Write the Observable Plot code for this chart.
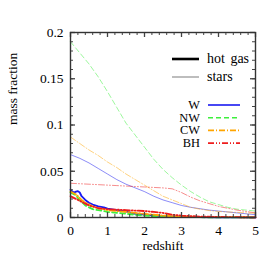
<!DOCTYPE html>
<html><head><meta charset="utf-8">
<script src="https://cdn.jsdelivr.net/npm/d3@7"></script>
<script src="https://cdn.jsdelivr.net/npm/@observablehq/plot@0.6"></script>
<style>body{margin:0;background:#fff}#chart{width:274px;height:274px}</style>
</head><body><div id="chart"></div>
<script>
// ---- data ----
const series = ["W", "NW", "CW", "BH"];
const seriesColors = ["#1a1af0", "#3cf03c", "#ffa500", "#ee1c1c"];
const seriesDash = [null, "5,3", "6,2,1,2", "6,2,1,2,1,2"];
const kinds = ["hot gas", "stars"];

const zStars = [0,0.25,0.5,0.75,1,1.25,1.5,1.75,2,2.25,2.5,2.75,3,3.25,3.5,3.75,4,4.25,4.5,4.75,5];
const starsW  = [0.068,0.064,0.059,0.053,0.047,0.041,0.036,0.032,0.028,0.023,0.019,0.016,0.013,0.011,0.0095,0.008,0.007,0.006,0.005,0.004,0.003];
const starsNW = [0.190,0.178,0.166,0.152,0.136,0.119,0.102,0.089,0.076,0.063,0.052,0.043,0.035,0.028,0.022,0.017,0.014,0.011,0.009,0.008,0.007];
const starsCW = [0.087,0.080,0.073,0.067,0.060,0.054,0.047,0.041,0.035,0.029,0.023,0.019,0.015,0.011,0.009,0.0075,0.0065,0.006,0.0055,0.005,0.0045];
const starsBH = [0.037,0.0365,0.036,0.0355,0.035,0.0345,0.034,0.0335,0.033,0.0325,0.032,0.031,0.027,0.022,0.018,0.015,0.012,0.010,0.008,0.0065,0.005];

const zGas = [0,0.05,0.1,0.15,0.2,0.25,0.3,0.4,0.5,0.6,0.75,0.9,1,1.25,1.5,1.75,2,2.25,2.5,2.75,3,3.5,4,4.5,5];
const gasW  = [0.030,0.028,0.027,0.028,0.0285,0.027,0.023,0.019,0.016,0.014,0.012,0.011,0.0095,0.008,0.0065,0.004,0.003,0.002,0.0015,0.001,0.0008,0.0004,0.0002,0.0001,0];
const gasNW = [0.027,0.026,0.025,0.024,0.021,0.019,0.017,0.013,0.011,0.009,0.008,0.007,0.006,0.005,0.004,0.003,0.002,0.0015,0.001,0.0007,0.0005,0.0003,0.0002,0.0001,0];
const gasCW = [0.028,0.027,0.026,0.025,0.023,0.021,0.019,0.016,0.014,0.012,0.010,0.009,0.008,0.007,0.006,0.005,0.004,0.003,0.002,0.0015,0.001,0.0007,0.0005,0.0003,0.0002];
const gasBH = [0.023,0.022,0.021,0.020,0.019,0.018,0.017,0.015,0.013,0.012,0.010,0.0095,0.009,0.0085,0.008,0.0075,0.007,0.006,0.005,0.003,0.002,0.001,0.0006,0.0003,0.0002];

const xTicks = [0,1,2,3,4,5];
const yTicks = [0,0.05,0.1,0.15,0.2];
const xMinor = d3.range(0, 5.001, 0.2);
const yMinor = d3.range(0, 0.2001, 0.01);

// ---- layout ----
const W = 274, H = 274, mL = 70, mR = 19, mT = 32, mB = 57;
const fw = W - mL - mR, fh = H - mT - mB;
const FONT = "Liberation Serif";

const starsVals = [starsW, starsNW, starsCW, starsBH];
const gasVals = [gasW, gasNW, gasCW, gasBH];
const rows = [];
series.forEach((s, i) => {
  zStars.forEach((z, j) => rows.push({series: s, kind: "stars", z, v: starsVals[i][j]}));
  zGas.forEach((z, j) => rows.push({series: s, kind: "hot gas", z, v: gasVals[i][j]}));
});

const lineMarks = [];
series.forEach((s, i) => {
  lineMarks.push(Plot.line(rows.filter(r => r.series === s && r.kind === "stars"),
    {x: "z", y: "v", stroke: seriesColors[i], strokeOpacity: 0.5, strokeWidth: 1, strokeDasharray: seriesDash[i]}));
});
series.forEach((s, i) => {
  lineMarks.push(Plot.line(rows.filter(r => r.series === s && r.kind === "hot gas"),
    {x: "z", y: "v", stroke: seriesColors[i], strokeWidth: 1.8, strokeDasharray: seriesDash[i]}));
});

const tickCol = "#444";
const chart = Plot.plot({
  width: W, height: H,
  marginLeft: mL, marginRight: mR, marginTop: mT, marginBottom: mB,
  x: {domain: [0, 5], label: null},
  y: {domain: [0, 0.2], label: null},
  marks: [
    ...lineMarks,
    Plot.tickX(xMinor, {x: d => d, insetTop: fh - 3, stroke: tickCol}),
    Plot.tickX(xMinor, {x: d => d, insetBottom: fh - 3, stroke: tickCol}),
    Plot.tickX(xTicks, {x: d => d, insetTop: fh - 5, stroke: tickCol, strokeWidth: 1.3}),
    Plot.tickX(xTicks, {x: d => d, insetBottom: fh - 5, stroke: tickCol, strokeWidth: 1.3}),
    Plot.tickY(yMinor, {y: d => d, insetRight: fw - 3, stroke: tickCol}),
    Plot.tickY(yMinor, {y: d => d, insetLeft: fw - 3, stroke: tickCol}),
    Plot.tickY(yTicks, {y: d => d, insetRight: fw - 5, stroke: tickCol, strokeWidth: 1.3}),
    Plot.tickY(yTicks, {y: d => d, insetLeft: fw - 5, stroke: tickCol, strokeWidth: 1.3}),
    Plot.frame({stroke: "#333", strokeWidth: 1.4}),
    Plot.axisX(xTicks, {tickSize: 0, tickPadding: 8, label: null, fontSize: 13.5, fontFamily: FONT, fill: "#000"}),
    Plot.axisY(yTicks, {tickSize: 0, tickPadding: 7, label: null, fontSize: 13.5, fontFamily: FONT, fill: "#000", tickFormat: d => String(d)}),
    Plot.text(["redshift"], {frameAnchor: "bottom", dy: 32, text: d => d, fontSize: 13.5, fontFamily: FONT}),
    Plot.text(["mass fraction"], {frameAnchor: "left", dx: -58, rotate: -90, text: d => d, fontSize: 13.5, fontFamily: FONT})
  ]
});
document.getElementById("chart").appendChild(chart);

// ---- legend (inside plot) ----
const svg = d3.select(chart);
const lg = svg.append("g").attr("font-family", FONT).attr("font-size", 12.4).attr("fill", "#000");
const kindStroke = ["#000", "#999"], kindWidth = [2.6, 1.3];
kinds.forEach((k, i) => {
  const y = 59 + i * 18;
  lg.append("line").attr("x1", 172).attr("x2", 199).attr("y1", y).attr("y2", y)
    .attr("stroke", kindStroke[i]).attr("stroke-width", kindWidth[i]);
  lg.append("text").attr("x", 207).attr("y", y).attr("dy", "0.32em").attr("text-anchor", "start")
    .attr("font-size", 14).attr("word-spacing", 2).text(k);
});
series.forEach((s, i) => {
  const y = 105 + i * 12.7;
  lg.append("text").attr("x", 200).attr("y", y).attr("dy", "0.32em").attr("text-anchor", "end").text(s);
  lg.append("line").attr("x1", 208).attr("x2", 240).attr("y1", y).attr("y2", y)
    .attr("stroke", seriesColors[i]).attr("stroke-width", 1.6)
    .attr("stroke-dasharray", seriesDash[i]);
});
</script></body></html>
